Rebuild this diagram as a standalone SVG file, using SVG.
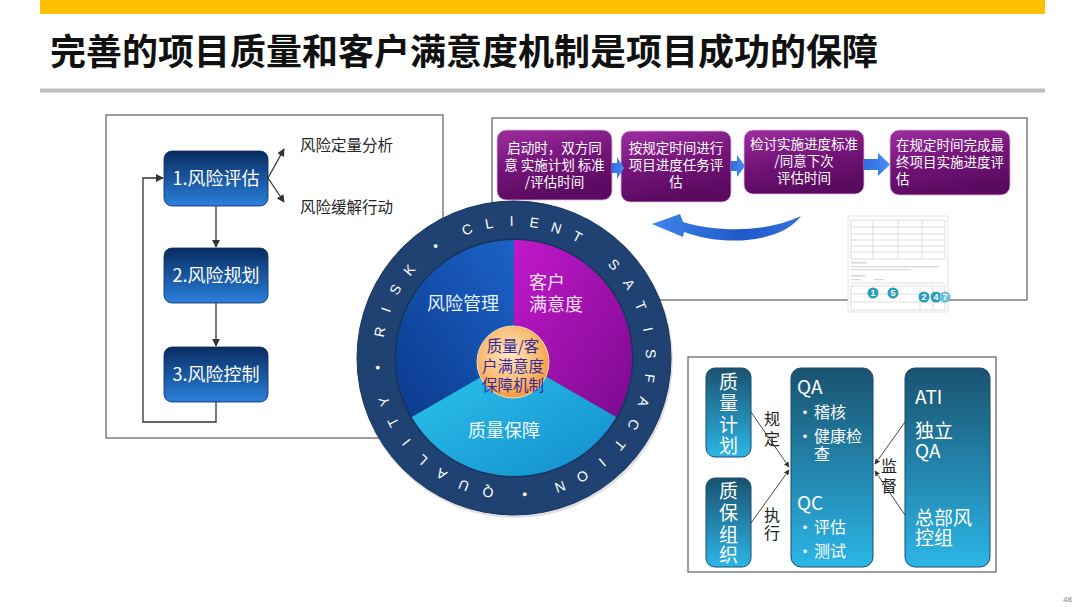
<svg xmlns="http://www.w3.org/2000/svg" width="1080" height="607" viewBox="0 0 1080 607">
<defs>
  <style>
    .cjk{font-family:"Noto Sans CJK SC","Liberation Sans",sans-serif;}
    .frame{fill:#ffffff;stroke:#6b6b6b;stroke-width:1.3;}
    .lnode{stroke:#0a2a5c;stroke-width:0.8;}
    .ltxt{font-family:"Noto Sans CJK SC",sans-serif;font-size:18px;fill:#ffffff;text-anchor:middle;}
    .note{font-family:"Noto Sans CJK SC",sans-serif;font-size:15.5px;fill:#262626;}
    .pbox{stroke:#d9b8dc;stroke-width:0.8;}
    .ptxt{font-family:"Noto Sans CJK SC",sans-serif;font-size:13.5px;fill:#ffffff;text-anchor:middle;}
    .conn{fill:none;stroke:#333333;stroke-width:1.3;}
    .conn2{fill:none;stroke:#333333;stroke-width:0.9;}
    .ring{font-family:"Liberation Sans",sans-serif;font-size:14px;fill:#ffffff;text-anchor:middle;}
    .tbox{stroke:#1c4a66;stroke-width:1;}
    .ttxt{font-family:"Noto Sans CJK SC",sans-serif;font-size:19px;fill:#ffffff;}
    .ttxs{font-family:"Noto Sans CJK SC",sans-serif;font-size:16px;fill:#ffffff;}
    .lab{font-family:"Noto Sans CJK SC",sans-serif;font-size:16px;fill:#222222;}
    .docl{stroke:#c8c8c8;stroke-width:0.6;fill:none;}
    .docb{fill:#d6d6d6;}
    .dnum{font-family:"Liberation Sans",sans-serif;font-size:9px;font-weight:bold;fill:#ffffff;text-anchor:middle;}
  </style>
  <linearGradient id="gLeft" x1="0" y1="0" x2="0" y2="1">
    <stop offset="0" stop-color="#0a2c62"/>
    <stop offset="1" stop-color="#2a80dc"/>
  </linearGradient>
  <linearGradient id="gPurple" x1="0" y1="0" x2="0.3" y2="1">
    <stop offset="0" stop-color="#9e2ea0"/>
    <stop offset="0.55" stop-color="#731478"/>
    <stop offset="1" stop-color="#5a0a60"/>
  </linearGradient>
  <linearGradient id="gTeal" x1="0" y1="0" x2="0" y2="1">
    <stop offset="0" stop-color="#1a5270"/>
    <stop offset="1" stop-color="#2cb6e6"/>
  </linearGradient>
  <linearGradient id="gBlueArr" x1="0" y1="0" x2="1" y2="0">
    <stop offset="0" stop-color="#2c6fe0"/>
    <stop offset="1" stop-color="#4a8cf0"/>
  </linearGradient>
  <linearGradient id="gCurve" x1="0" y1="0" x2="1" y2="0">
    <stop offset="0" stop-color="#3f86ea"/>
    <stop offset="0.6" stop-color="#1f58c8"/>
    <stop offset="1" stop-color="#3470dc"/>
  </linearGradient>
  <linearGradient id="gSecBlue" x1="1" y1="0" x2="0" y2="1">
    <stop offset="0" stop-color="#1c62c8"/>
    <stop offset="1" stop-color="#0b3a8c"/>
  </linearGradient>
  <linearGradient id="gSecMag" x1="0" y1="0" x2="1" y2="1">
    <stop offset="0" stop-color="#c218cc"/>
    <stop offset="1" stop-color="#7c0a8e"/>
  </linearGradient>
  <linearGradient id="gSecCyan" x1="0" y1="0" x2="1" y2="1">
    <stop offset="0" stop-color="#2cc6ee"/>
    <stop offset="1" stop-color="#138ccb"/>
  </linearGradient>
  <radialGradient id="gOrange" cx="0.45" cy="0.4" r="0.6">
    <stop offset="0" stop-color="#ffe6c4"/>
    <stop offset="0.6" stop-color="#fbc07a"/>
    <stop offset="1" stop-color="#f39a3c"/>
  </radialGradient>
  <marker id="ah" viewBox="0 0 10 10" refX="9" refY="5" markerWidth="6" markerHeight="6" orient="auto">
    <path d="M0,0 L10,5 L0,10 z" fill="#333333"/>
  </marker>
</defs>

<rect width="1080" height="607" fill="#ffffff"/>

<!-- header -->
<g id="header">
  <rect x="40" y="0" width="1005" height="14" fill="#ffc000"/>
  <text x="50" y="65" class="cjk" font-size="36" font-weight="bold" fill="#111111">完善的项目质量和客户满意度机制是项目成功的保障</text>
  <rect x="40" y="88.5" width="1005" height="4" fill="#bfbfbf"/>
</g>

<!-- left panel -->
<g id="risk-panel">
  <rect class="frame" x="106" y="115" width="337" height="323"/>
</g>
<g id="node-risk1">
  <rect class="lnode" x="164" y="151" width="104" height="55" rx="8" fill="url(#gLeft)"/>
  <text class="ltxt" x="216" y="184.5">1.风险评估</text>
</g>
<g id="node-risk2">
  <rect class="lnode" x="164" y="248" width="104" height="55" rx="8" fill="url(#gLeft)"/>
  <text class="ltxt" x="216" y="281.5">2.风险规划</text>
</g>
<g id="node-risk3">
  <rect class="lnode" x="164" y="347" width="104" height="55" rx="8" fill="url(#gLeft)"/>
  <text class="ltxt" x="216" y="380.5">3.风险控制</text>
</g>
<g id="node-quant">
  <text class="note" x="300" y="150.5">风险定量分析</text>
</g>
<g id="node-mitig">
  <text class="note" x="300" y="212.5">风险缓解行动</text>
</g>

<!-- top-right panel -->
<g id="schedule-panel">
  <rect class="frame" x="492" y="118" width="535" height="182"/>
</g>

<!-- document thumbnail -->
<g id="doc-thumb">
  <rect x="848" y="216" width="100" height="96" fill="#ffffff" stroke="#d0d0d0" stroke-width="0.6"/>
  <rect x="851" y="220" width="94" height="39" class="docl"/>
  <line class="docl" x1="851" y1="227" x2="945" y2="227"/>
  <line class="docl" x1="851" y1="234" x2="945" y2="234"/>
  <line class="docl" x1="851" y1="240" x2="945" y2="240"/>
  <line class="docl" x1="851" y1="246" x2="945" y2="246"/>
  <line class="docl" x1="851" y1="252" x2="945" y2="252"/>
  <line class="docl" x1="873" y1="220" x2="873" y2="259"/>
  <line class="docl" x1="898" y1="220" x2="898" y2="259"/>
  <line class="docl" x1="922" y1="220" x2="922" y2="259"/>
  <rect class="docb" x="851" y="262" width="16" height="1.5"/>
  <rect class="docb" x="851" y="266" width="88" height="1.2"/>
  <rect class="docb" x="851" y="269" width="60" height="1.2"/>
  <rect class="docb" x="851" y="275" width="14" height="1.5"/>
  <rect class="docb" x="851" y="279" width="10" height="1.2"/>
  <rect class="docb" x="874" y="279" width="10" height="1.2"/>
  <line class="docl" x1="851" y1="283" x2="945" y2="283"/>
  <rect x="851" y="286" width="94" height="24" class="docl"/>
  <line class="docl" x1="851" y1="294" x2="945" y2="294"/>
  <line class="docl" x1="851" y1="302" x2="945" y2="302"/>
  <line class="docl" x1="920" y1="286" x2="920" y2="310"/>
  <line class="docl" x1="933" y1="286" x2="933" y2="310"/>
  <circle cx="873" cy="293" r="5.5" fill="#2a9cbc"/>
  <text class="dnum" x="873" y="296.3">1</text>
  <circle cx="893" cy="293" r="5.5" fill="#2a9cbc"/>
  <text class="dnum" x="893" y="296.3">5</text>
  <circle cx="924" cy="297" r="5.5" fill="#2a9cbc"/>
  <text class="dnum" x="924" y="300.3">2</text>
  <circle cx="936" cy="297" r="5.5" fill="#2a9cbc"/>
  <text class="dnum" x="936" y="300.3">4</text>
  <circle cx="945" cy="297" r="5.5" fill="#6cc0d8"/>
  <text class="dnum" x="945" y="300.3">7</text>
</g>

<g id="node-step1">
  <rect class="pbox" x="497" y="130" width="115" height="70" rx="9" fill="url(#gPurple)"/>
  <text class="ptxt"><tspan x="554.5" y="153">启动时，双方同</tspan><tspan x="554.5" y="170">意 实施计划 标准</tspan><tspan x="554.5" y="187">/评估时间</tspan></text>
</g>
<g id="node-step2">
  <rect class="pbox" x="621" y="131" width="110" height="71" rx="9" fill="url(#gPurple)"/>
  <text class="ptxt"><tspan x="676" y="153">按规定时间进行</tspan><tspan x="676" y="170">项目进度任务评</tspan><tspan x="676" y="187">估</tspan></text>
</g>
<g id="node-step3">
  <rect class="pbox" x="744" y="130" width="120" height="64" rx="9" fill="url(#gPurple)"/>
  <text class="ptxt"><tspan x="804" y="149">检讨实施进度标准</tspan><tspan x="804" y="166">/同意下次</tspan><tspan x="804" y="183">评估时间</tspan></text>
</g>
<g id="node-step4">
  <rect class="pbox" x="890" y="130" width="120" height="65" rx="9" fill="url(#gPurple)"/>
  <text class="ptxt" style="text-anchor:start"><tspan x="896" y="150">在规定时间完成最</tspan><tspan x="896" y="167">终项目实施进度评</tspan><tspan x="896" y="184">估</tspan></text>
</g>

<!-- bottom-right panel -->
<g id="quality-panel">
  <rect class="frame" x="688" y="357" width="308" height="215"/>
</g>
<g id="node-qplan">
  <rect class="tbox" x="706" y="368" width="45" height="89" rx="9" fill="url(#gTeal)"/>
  <text class="ttxt" text-anchor="middle"><tspan x="728.5" y="389">质</tspan><tspan x="728.5" y="410">量</tspan><tspan x="728.5" y="432">计</tspan><tspan x="728.5" y="453">划</tspan></text>
</g>
<g id="node-qorg">
  <rect class="tbox" x="706" y="478" width="45" height="89" rx="9" fill="url(#gTeal)"/>
  <text class="ttxt" text-anchor="middle"><tspan x="728.5" y="498">质</tspan><tspan x="728.5" y="520">保</tspan><tspan x="728.5" y="542">组</tspan><tspan x="728.5" y="562">织</tspan></text>
</g>
<g id="node-qaqc">
  <rect class="tbox" x="791" y="368" width="82" height="199" rx="10" fill="url(#gTeal)"/>
  <text class="ttxt" x="797" y="394">QA</text>
  <text class="ttxs"><tspan x="797" y="418">•</tspan><tspan x="814" y="418">稽核</tspan></text>
  <text class="ttxs"><tspan x="797" y="442">•</tspan><tspan x="814" y="442">健康检</tspan><tspan x="814" y="460">查</tspan></text>
  <text class="ttxt" x="797" y="510">QC</text>
  <text class="ttxs"><tspan x="797" y="533">•</tspan><tspan x="814" y="533">评估</tspan></text>
  <text class="ttxs"><tspan x="797" y="557">•</tspan><tspan x="814" y="557">测试</tspan></text>
</g>
<g id="node-ati">
  <rect class="tbox" x="905" y="368" width="85" height="199" rx="10" fill="url(#gTeal)"/>
  <text class="ttxt" x="915" y="404">ATI</text>
  <text class="ttxt"><tspan x="915" y="438">独立</tspan><tspan x="915" y="458">QA</tspan></text>
  <text class="ttxt"><tspan x="915" y="525">总部风</tspan><tspan x="915" y="545">控组</tspan></text>
</g>
<g id="labels-quality">
  <text class="lab"><tspan x="764" y="425">规</tspan><tspan x="764" y="445">定</tspan></text>
  <text class="lab"><tspan x="764" y="521">执</tspan><tspan x="764" y="539">行</tspan></text>
  <text class="lab"><tspan x="881" y="472">监</tspan><tspan x="881" y="492">督</tspan></text>
</g>

<!-- connectors -->
<g id="connectors">
  <path class="conn" d="M216 206 L216 247" marker-end="url(#ah)"/>
  <path class="conn" d="M216 303 L216 346" marker-end="url(#ah)"/>
  <path class="conn" d="M216 402 L216 422 L143 422 L143 178 L163 178" marker-end="url(#ah)"/>
  <path class="conn" d="M268 178 L284 149" marker-end="url(#ah)"/>
  <path class="conn" d="M268 178 L284 202" marker-end="url(#ah)"/>
  <polygon points="612,163 617,163 617,157 624,168 617,179 617,173 612,173" fill="url(#gBlueArr)"/>
  <polygon points="731,161 737,161 737,155 745,166 737,177 737,171 731,171" fill="url(#gBlueArr)"/>
  <polygon points="864,159 878,159 878,153 890,164.5 878,176 878,170 864,170" fill="url(#gBlueArr)"/>
  <path d="M652 224 L680 214 L683 222 C720 233 768 232 801 216 C783 241 728 248 684 232 L683 237 Z" fill="url(#gCurve)"/>
  <path class="conn2" d="M751 412 L789 467" marker-end="url(#ah)"/>
  <path class="conn2" d="M751 523 L789 470" marker-end="url(#ah)"/>
  <path class="conn2" d="M905 422 L875 464" marker-end="url(#ah)"/>
  <path class="conn2" d="M905 515 L875 471" marker-end="url(#ah)"/>
</g>

<!-- central wheel -->
<g id="wheel">
  <circle cx="515" cy="360" r="158" fill="#000000" opacity="0.12"/>
  <circle cx="514" cy="358" r="157" fill="#1f4272" stroke="#183560" stroke-width="1"/>
  <circle cx="514" cy="358" r="119.5" fill="#15345f"/>
</g>
<g id="sector-risk">
  <path d="M514 358 L514 240 A118 118 0 0 0 411.8 417 Z" fill="url(#gSecBlue)"/>
  <text class="cjk" x="463" y="309.5" font-size="18" fill="#e6f2ff" text-anchor="middle">风险管理</text>
</g>
<g id="sector-client">
  <path d="M514 358 L514 240 A118 118 0 0 1 616.2 417 Z" fill="url(#gSecMag)"/>
  <text class="cjk" font-size="18" fill="#fbe0fb"><tspan x="529" y="289">客户</tspan><tspan x="529" y="311">满意度</tspan></text>
</g>
<g id="sector-quality">
  <path d="M514 358 L411.8 417 A118 118 0 0 0 616.2 417 Z" fill="url(#gSecCyan)"/>
  <text class="cjk" x="504" y="436.5" font-size="18" fill="#f2fbff" text-anchor="middle">质量保障</text>
</g>
<g id="center-hub">
  <circle cx="513" cy="362" r="36" fill="url(#gOrange)" stroke="#f7d9b5" stroke-width="1"/>
  <text class="cjk" font-size="15.5" fill="#3a2a9c" text-anchor="middle"><tspan x="513" y="352">质量/客</tspan><tspan x="513" y="372">户满意度</tspan><tspan x="513" y="391">保障机制</tspan></text>
</g>
<g id="ring-text">
  <text class="ring" x="514" y="226" transform="rotate(340 514 358)">C</text>
  <text class="ring" x="514" y="226" transform="rotate(349.5 514 358)">L</text>
  <text class="ring" x="514" y="226" transform="rotate(359 514 358)">I</text>
  <text class="ring" x="514" y="226" transform="rotate(8.5 514 358)">E</text>
  <text class="ring" x="514" y="226" transform="rotate(18 514 358)">N</text>
  <text class="ring" x="514" y="226" transform="rotate(27.5 514 358)">T</text>
  <text class="ring" x="514" y="226" transform="rotate(47 514 358)">S</text>
  <text class="ring" x="514" y="226" transform="rotate(57.3 514 358)">A</text>
  <text class="ring" x="514" y="226" transform="rotate(67.6 514 358)">T</text>
  <text class="ring" x="514" y="226" transform="rotate(77.9 514 358)">I</text>
  <text class="ring" x="514" y="226" transform="rotate(88.2 514 358)">S</text>
  <text class="ring" x="514" y="226" transform="rotate(98.5 514 358)">F</text>
  <text class="ring" x="514" y="226" transform="rotate(108.8 514 358)">A</text>
  <text class="ring" x="514" y="226" transform="rotate(119.1 514 358)">C</text>
  <text class="ring" x="514" y="226" transform="rotate(129.4 514 358)">T</text>
  <text class="ring" x="514" y="226" transform="rotate(139.7 514 358)">I</text>
  <text class="ring" x="514" y="226" transform="rotate(150 514 358)">O</text>
  <text class="ring" x="514" y="226" transform="rotate(160.3 514 358)">N</text>
  <text class="ring" x="514" y="226" transform="rotate(175.5 514 358)">•</text>
  <text class="ring" x="514" y="226" transform="rotate(191 514 358)">Q</text>
  <text class="ring" x="514" y="226" transform="rotate(201.5 514 358)">U</text>
  <text class="ring" x="514" y="226" transform="rotate(212 514 358)">A</text>
  <text class="ring" x="514" y="226" transform="rotate(222 514 358)">L</text>
  <text class="ring" x="514" y="226" transform="rotate(232 514 358)">I</text>
  <text class="ring" x="514" y="226" transform="rotate(242 514 358)">T</text>
  <text class="ring" x="514" y="226" transform="rotate(251.5 514 358)">Y</text>
  <text class="ring" x="514" y="226" transform="rotate(266 514 358)">•</text>
  <text class="ring" x="514" y="226" transform="rotate(281 514 358)">R</text>
  <text class="ring" x="514" y="226" transform="rotate(290.7 514 358)">I</text>
  <text class="ring" x="514" y="226" transform="rotate(300 514 358)">S</text>
  <text class="ring" x="514" y="226" transform="rotate(310 514 358)">K</text>
  <text class="ring" x="514" y="226" transform="rotate(325 514 358)">•</text>
</g>

<g id="page-number">
  <text x="1072" y="602" font-family="Liberation Sans,sans-serif" font-size="8" fill="#7f7f7f" text-anchor="end">48</text>
</g>
</svg>
